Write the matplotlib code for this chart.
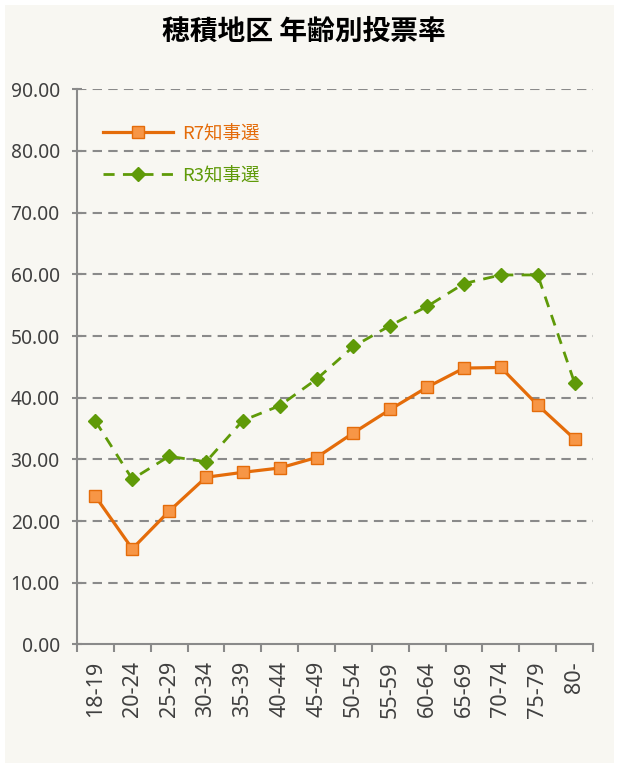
import matplotlib
matplotlib.use("Agg")
import matplotlib.pyplot as plt
from matplotlib.patches import Rectangle
import numpy as np

categories = ["18-19", "20-24", "25-29", "30-34", "35-39", "40-44", "45-49",
              "50-54", "55-59", "60-64", "65-69", "70-74", "75-79", "80-"]
r7 = [24.0, 15.5, 21.6, 27.1, 27.9, 28.6, 30.3, 34.3, 38.1, 41.7, 44.8, 44.9, 38.8, 33.3]
r3 = [36.2, 26.8, 30.5, 29.6, 36.3, 38.7, 43.0, 48.3, 51.7, 54.8, 58.5, 59.9, 59.9, 42.4]
yticks = [0, 10, 20, 30, 40, 50, 60, 70, 80, 90]
title = "穂積地区 年齢別投票率"
labels = ["R7知事選", "R3知事選"]

BG = "#f8f7f2"
ORANGE = "#e46c0a"
ORANGE_FILL = "#f79646"
GREEN = "#5f9a08"
GRID = "#8a8a8a"
TXT = "#404040"

fig = plt.figure(figsize=(6.17, 7.70), dpi=100, facecolor="white")
fig.patches.append(Rectangle((5 / 617, 7 / 770), 609 / 617, 758 / 770,
                             transform=fig.transFigure, facecolor=BG,
                             edgecolor="none", zorder=-10))

ax = fig.add_axes([77 / 617, 1 - 644.4 / 770, (593 - 77) / 617, (644.4 - 89.3) / 770])
ax.set_facecolor(BG)
ax.patch.set_alpha(0)

x = np.arange(len(categories))
ax.plot(x, r7, color=ORANGE, lw=2.3, marker="s", markersize=8,
        markerfacecolor=ORANGE_FILL, markeredgecolor=ORANGE, markeredgewidth=1.0,
        label=labels[0], zorder=4)
ax.plot(x, r3, color=GREEN, lw=2.0, dashes=(4, 3), marker="D", markersize=7.5,
        markerfacecolor=GREEN, markeredgecolor=GREEN, label=labels[1], zorder=3)

ax.set_xlim(-0.5, len(categories) - 0.5)
ax.set_ylim(0, 90)
ax.set_yticks(yticks)
ax.set_yticklabels([f"{v:.2f}" for v in yticks])
for v in yticks[1:]:
    ax.axhline(v, color=GRID, lw=1.5, dashes=(4.5, 3), zorder=1)

for s in ["top", "right"]:
    ax.spines[s].set_visible(False)
for s in ["left", "bottom"]:
    ax.spines[s].set_color(GRID)
    ax.spines[s].set_linewidth(1.5)

ax.set_xticks(x)
ax.set_xticklabels(categories, rotation=90)
ax.set_xticks(np.arange(-0.5, len(categories), 1), minor=True)
ax.tick_params(axis="x", which="major", length=0, pad=12, labelsize=15.5, labelcolor=TXT)
ax.tick_params(axis="x", which="minor", length=6, width=1.5, color=GRID, direction="out")
ax.tick_params(axis="y", which="major", length=7, width=1.5, color=GRID, direction="inout",
               pad=9, labelsize=13.8, labelcolor=TXT)
for lab in ax.get_xticklabels() + ax.get_yticklabels():
    lab.set_family(["Noto Sans", "DejaVu Sans"])

fig.text(304 / 617, 1 - 32 / 770, title, ha="center", va="center",
         fontsize=20, fontweight="bold", family=["Noto Sans CJK JP", "DejaVu Sans"],
         color="black")

leg = ax.legend(loc="upper left", bbox_to_anchor=(9 / 516, 1 - 19 / 555), frameon=False,
                handlelength=3.8, handletextpad=0.5, labelspacing=1.3,
                prop={"family": ["Noto Sans CJK JP", "DejaVu Sans"], "size": 13.3})
for t, c in zip(leg.get_texts(), [ORANGE, GREEN]):
    t.set_color(c)

fig.savefig("out.png", dpi=100, facecolor="white")
